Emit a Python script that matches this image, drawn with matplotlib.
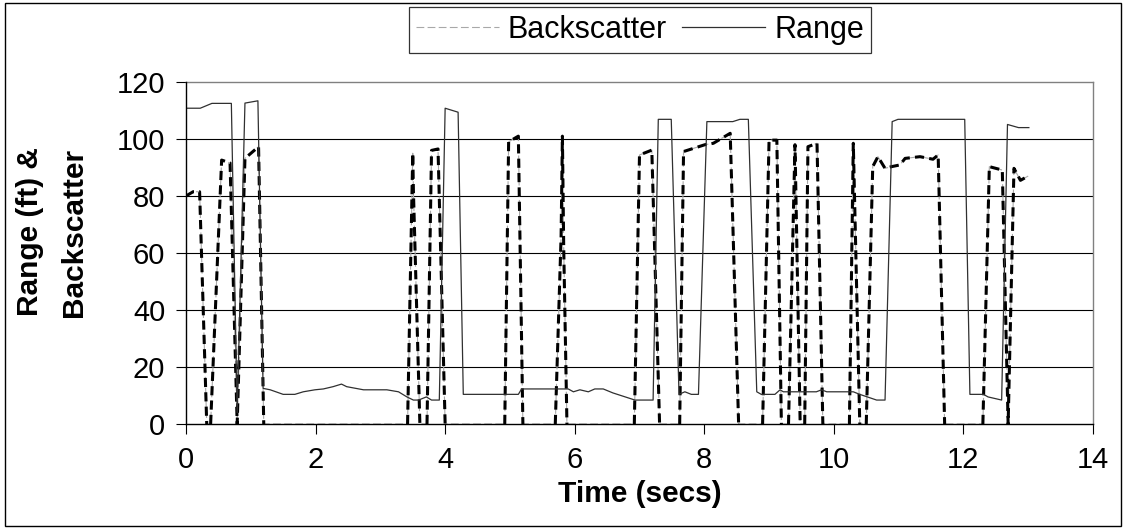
import matplotlib
matplotlib.use("Agg")
import matplotlib.pyplot as plt
import numpy as np
from matplotlib.lines import Line2D
from matplotlib.patches import Rectangle

plt.rcParams['font.family'] = ['Liberation Sans', 'DejaVu Sans']

# ---- data ----
range_t = [0.00, 0.22, 0.40, 0.70, 0.79, 0.91, 1.11, 1.19, 1.30, 1.50, 1.68, 1.81, 1.99, 2.12,
           2.27, 2.40, 2.48, 2.74, 3.10, 3.28, 3.41, 3.51, 3.59, 3.71, 3.79, 3.91, 4.00, 4.20,
           4.28, 5.13, 5.18, 5.90, 5.98, 6.08, 6.21, 6.31, 6.44, 6.59, 6.93, 7.21, 7.29, 7.49,
           7.61, 7.70, 7.80, 7.91, 8.04, 8.44, 8.55, 8.68, 8.81, 8.88, 9.09, 9.17, 9.22, 9.73,
           9.81, 9.89, 10.30, 10.40, 10.66, 10.79, 10.90, 10.99, 12.02, 12.10, 12.31, 12.38,
           12.59, 12.68, 12.85, 13.01]
range_v = [110.8, 110.8, 112.5, 112.5, 4.0, 112.6, 113.4, 12.5, 12.0, 10.4, 10.4, 11.3, 12.0, 12.3,
           13.1, 14.0, 13.1, 12.0, 12.0, 11.3, 9.5, 8.4, 8.4, 9.5, 8.4, 8.4, 110.8, 109.4,
           10.4, 10.4, 12.3, 12.3, 11.3, 12.0, 11.3, 12.3, 12.3, 10.9, 8.4, 8.4, 106.9, 106.9,
           10.4, 11.3, 10.4, 10.4, 106.1, 106.1, 106.9, 106.9, 11.3, 10.4, 10.4, 12.0, 11.3, 11.3,
           12.0, 11.3, 11.3, 10.4, 8.4, 8.4, 106.1, 106.9, 106.9, 10.4, 10.4, 9.5,
           8.4, 105.1, 104.0, 104.0]

bs_t = [0.00, 0.11, 0.21, 0.32, 0.38, 0.55, 0.68, 0.79, 0.91, 1.12, 1.20, 3.42, 3.50, 3.51,
        3.61, 3.72, 3.79, 3.89, 4.00, 4.92, 4.98, 5.13, 5.20, 5.70, 5.79, 5.81, 5.83, 5.88,
        6.92, 7.00, 7.19, 7.31, 7.62, 7.68, 8.01, 8.14, 8.40, 8.53, 8.90, 9.00, 9.12, 9.19,
        9.30, 9.40, 9.48, 9.55, 9.60, 9.74, 9.83, 10.24, 10.30, 10.40, 10.50, 10.60, 10.68,
        10.79, 10.89, 11.02, 11.10, 11.33, 11.53, 11.61, 11.71, 12.30, 12.40, 12.60, 12.69,
        12.78, 12.88, 13.00]
bs_v = [80, 81.5, 81.5, 0, 0, 92.6, 91.6, 0, 93.2, 97.3, 0, 0, 95, 82,
        0, 0, 96, 96.5, 0, 0, 99, 101, 0, 0, 66, 101, 62, 0,
        0, 94.4, 96.1, 0, 0, 95.6, 98, 98.5, 102, 0, 0, 99.6, 99.6, 0,
        0, 98, 0, 0, 97.3, 98.5, 0, 0, 98.5, 0, 0, 90.3, 93.8,
        89.7, 90.3, 90.9, 93.2, 93.8, 92.9, 94.4, 0, 0, 90.3, 89.1, 0,
        89.7, 85.5, 87]

x_ticks = [0, 2, 4, 6, 8, 10, 12, 14]
y_ticks = [0, 20, 40, 60, 80, 100, 120]

# ---- figure ----
W, H = 1125, 529
fig = plt.figure(figsize=(W / 100, H / 100), dpi=100)
ax = fig.add_axes([186 / W, 1 - 424 / H, (1093 - 186) / W, (424 - 82) / H])

ax.set_xlim(0, 14)
ax.set_ylim(0, 120)

for yv in y_ticks[1:-1]:
    ax.axhline(yv, color='black', lw=0.8, zorder=1)

# Backscatter: thin grey dashed line with heavy black dashes overlaid
ax.plot(bs_t, bs_v, color='#a8a8a8', lw=0.8, dashes=(7, 3), zorder=2)

# heavy overlay: break the path where it lies flat on the zero baseline
ov_t, ov_v = [], []
for i in range(len(bs_t)):
    if i > 0 and bs_v[i] == 0 and bs_v[i - 1] == 0:
        ov_t.append(np.nan)
        ov_v.append(np.nan)
    ov_t.append(bs_t[i])
    ov_v.append(bs_v[i])
ax.plot(ov_t, ov_v, color='black', lw=2.2, dashes=(3.0, 1.7), zorder=3)

# Range
ax.plot(range_t, range_v, color='#303030', lw=0.9, zorder=4)

ax.set_xticks(x_ticks)
ax.set_yticks(y_ticks)
ax.tick_params(axis='both', direction='out', length=7, width=0.8, labelsize=21, colors='black')
ax.tick_params(axis='x', pad=9)
ax.tick_params(axis='y', pad=8)

for s in ['left', 'bottom']:
    ax.spines[s].set_color('black')
    ax.spines[s].set_linewidth(1.0)
    ax.spines[s].set_zorder(5)
for s in ['top', 'right']:
    ax.spines[s].set_color('#808080')
    ax.spines[s].set_linewidth(1.0)

ax.set_xlabel('Time (secs)', fontsize=21.5, fontweight='bold', labelpad=4)
fig.text(52 / W, 1 - 232 / H, 'Range (ft) &\nBackscatter', rotation=90, fontsize=21.5,
         fontweight='bold', ha='center', va='center', linespacing=1.75)

handles = [Line2D([], [], color='#a8a8a8', lw=0.8, dashes=(7, 3)),
           Line2D([], [], color='#303030', lw=0.9)]
leg = fig.legend(handles, ['Backscatter', 'Range'], loc='center', bbox_to_anchor=(640 / W, 1 - 30 / H),
                 ncol=2, fontsize=22, frameon=True, fancybox=False, edgecolor='black',
                 handlelength=2.7, handletextpad=0.3, columnspacing=0.5, borderpad=0.25,
                 borderaxespad=0)
leg.get_frame().set_linewidth(0.9)

# outer chart border
fig.patches.append(Rectangle((5 / W, 3 / H), (1121 - 5) / W, (526 - 3) / H, transform=fig.transFigure,
                             fill=False, edgecolor='black', lw=1.0))

fig.savefig('out.png', dpi=100, facecolor='white')
